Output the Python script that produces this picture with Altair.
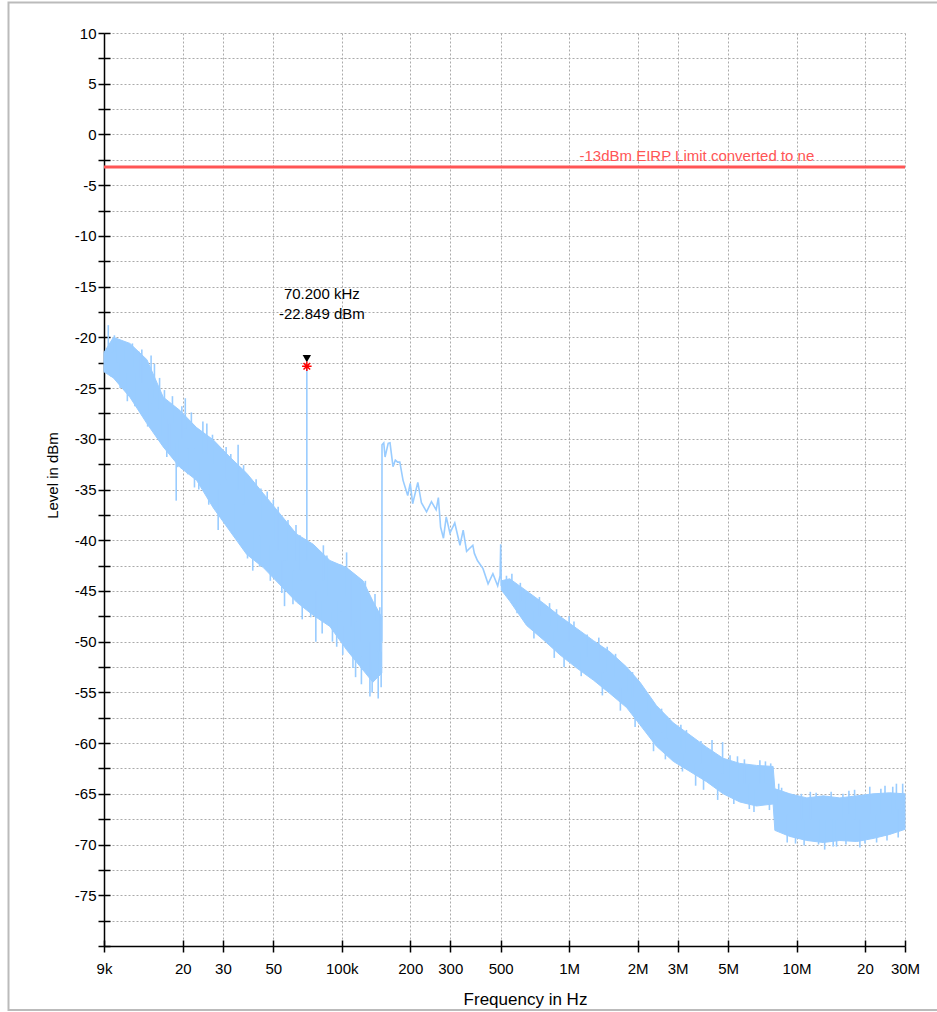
import altair as alt
import pandas as pd

# ---------------- data ----------------
# noisy band 9 kHz .. 150 kHz (upper / lower envelope, dBm)
band1_freq = [9000, 9900, 11700, 13900, 16400, 19400, 23000, 27200, 32200, 38200,
              45200, 53500, 63300, 74900, 88700, 105000, 124000, 137000, 150000]
band1_hi = [-21.5, -20.0, -20.6, -22.2, -25.9, -27.2, -28.9, -30.1, -31.8, -33.4,
            -35.4, -37.4, -39.4, -40.4, -42.0, -42.7, -44.0, -46.0, -47.6]
band1_lo = [-23.4, -24.0, -25.9, -28.5, -30.8, -32.8, -34.1, -36.8, -39.1, -41.4,
            -42.7, -44.4, -46.1, -47.4, -48.5, -50.8, -52.8, -54.0, -53.1]

# noisy band 500 kHz .. 30 MHz
band3_freq = [503000, 548000, 650000, 769000, 911000, 1080000, 1280000, 1510000, 1790000,
              2050000, 2420000, 2870000, 3400000, 4020000, 4760000, 5630000, 6670000,
              7890000, 8030000, 9350000, 11100000, 13100000, 15500000, 18400000,
              21700000, 25700000, 30000000]
band3_hi = [-44.0, -43.8, -45.0, -46.2, -47.5, -48.7, -49.9, -51.0, -52.5,
            -54.0, -56.3, -58.0, -59.2, -60.4, -61.5, -62.0, -62.2,
            -62.3, -64.5, -65.0, -65.4, -65.2, -65.4, -65.2,
            -65.0, -64.9, -65.0]
band3_lo = [-44.9, -46.0, -48.4, -49.8, -51.3, -52.6, -53.8, -55.1, -56.5,
            -58.2, -60.3, -61.8, -62.8, -63.8, -65.0, -65.8, -66.2,
            -66.0, -68.6, -69.2, -69.6, -69.8, -69.6, -69.7,
            -69.4, -69.0, -68.5]

# single trace 150 kHz .. 500 kHz
line_freq = [150000, 150300, 153000, 155000, 160000, 163000, 168000, 172000, 176000, 180000,
             186000, 195000, 200000, 205000, 216000, 224000, 236000, 248000, 260000, 266000,
             272000, 280000, 288000, 299000, 314000, 331000, 342000, 354000, 377000, 383000,
             395000, 418000, 440000, 462000, 485000, 497000, 500000, 503000]
line_db = [-50.0, -30.6, -30.4, -31.8, -30.45, -30.4, -32.75, -32.1, -32.3, -32.3,
           -34.1, -35.6, -34.4, -36.4, -34.3, -36.3, -37.2, -36.2, -37.0, -35.8,
           -38.7, -39.8, -37.7, -39.3, -38.3, -40.5, -39.0, -41.1, -40.5, -41.3,
           -42.0, -42.8, -44.3, -43.3, -44.5, -43.5, -40.4, -44.5]

# noise spikes (frequency, start level, tip level)
spike_freq = [9400, 10300, 12000, 13200, 14500, 15800, 17000, 18700, 20500, 22500,
              25500, 28600, 31000, 35000, 40600, 44100, 50000, 56000, 62900, 67000,
              70200, 76900, 83000, 95000, 105000, 115000, 127000, 133000, 140000, 144600,
              560000, 640000, 820000, 1000000, 1200000, 1470000, 1790000, 2190000, 2700000,
              3280000, 3600000, 4250000, 4730000, 5500000, 6200000, 7300000, 8350000,
              9900000, 11500000, 13300000, 15000000, 17000000, 19000000, 23500000,
              26500000, 29300000,
              9700, 10000, 10600, 11000, 11400, 12300, 12800, 14000, 15000, 16000,
              16600, 17500, 18000, 19000, 19800, 21000, 21800, 23500, 24500, 26000,
              27000, 29500, 32500, 34000, 37000, 38500, 42000, 43500, 47000, 48500,
              52500, 54500, 58000, 61000, 65500, 73000, 79000, 82000, 86000, 91000,
              99000, 101000, 110000, 112000, 120000, 122000, 130000, 136000, 147000, 149000,
              530000, 590000, 610000, 700000, 740000, 860000, 880000, 950000, 1050000, 1130000,
              1350000, 1400000, 1600000, 1680000, 1900000, 1950000, 2300000, 2350000, 2550000,
              2650000, 3100000, 3150000, 3800000, 3900000, 4500000, 5100000, 5300000, 5900000,
              6500000, 6900000, 7600000, 7700000, 8600000, 9100000, 10500000, 10800000,
              12200000, 12500000, 14200000, 14500000, 16000000, 16500000, 18000000,
              20000000, 21000000, 22500000, 24500000, 25000000, 27500000, 28000000]
spike_base = [-22.0, -22.5, -23.0, -24.5, -26.5, -27.0, -28.0, -30.5, -29.0, -31.0,
              -31.5, -35.0, -34.0, -35.0, -39.0, -38.0, -40.0, -42.0, -42.0, -44.0,
              -42.0, -45.0, -44.0, -46.0, -45.5, -48.0, -47.0, -50.0, -48.0, -51.0,
              -45.0, -47.0, -48.5, -50.0, -51.5, -53.0, -55.0, -57.0, -59.5,
              -61.0, -62.0, -62.0, -63.0, -64.0, -64.0, -64.0, -66.5,
              -67.5, -67.5, -67.5, -67.5, -67.0, -67.5, -67.0,
              -67.0, -66.5,
              -21.5, -21.5, -22.5, -22.5, -23.5, -23.5, -24.0, -25.0, -26.0, -27.0,
              -28.0, -28.5, -28.5, -30.0, -30.0, -31.0, -30.0, -32.0, -31.5, -33.5,
              -32.5, -34.5, -35.0, -36.5, -36.5, -38.0, -38.5, -39.5, -39.5, -40.5,
              -41.0, -42.0, -42.0, -43.0, -43.0, -44.5, -44.5, -46.0, -45.5, -47.0,
              -47.0, -48.5, -48.5, -50.0, -50.0, -51.5, -50.5, -52.0, -51.0, -51.0,
              -45.0, -45.5, -46.0, -47.0, -47.5, -49.0, -49.0, -50.0, -50.5, -51.0,
              -52.0, -53.0, -53.5, -54.5, -55.5, -56.0, -58.0, -58.5, -59.0,
              -59.5, -60.5, -61.0, -62.0, -62.5, -63.5, -63.5, -64.0, -64.0,
              -64.5, -64.0, -64.5, -64.0, -67.0, -67.0, -67.5, -67.5,
              -67.5, -67.5, -67.5, -67.5, -67.5, -67.5, -67.5,
              -67.0, -67.0, -67.0, -67.0, -67.0, -66.5, -66.5]
spike_tip = [-18.8, -20.3, -20.6, -21.2, -21.8, -24.0, -31.8, -36.1, -26.0, -34.8,
             -28.5, -39.0, -30.8, -30.6, -43.0, -34.9, -36.0, -46.5, -38.5, -47.8,
             -22.849, -50.0, -40.5, -50.5, -41.2, -53.5, -44.0, -55.4, -45.3, -55.6,
             -43.3, -45.0, -46.2, -47.5, -49.3, -50.5, -52.5, -55.3, -57.4,
             -58.7, -64.2, -59.7, -59.9, -61.3, -66.5, -61.8, -64.0,
             -69.9, -64.8, -70.5, -70.2, -64.7, -70.3, -64.5,
             -64.3, -64.0,
             -23.9, -19.8, -25.0, -20.8, -26.3, -26.8, -21.4, -28.8, -22.6, -29.8,
             -25.2, -31.3, -25.8, -32.8, -26.8, -33.5, -27.4, -35.0, -28.3, -36.5,
             -29.6, -37.8, -31.5, -39.6, -32.6, -41.8, -34.0, -42.6, -35.2, -44.0,
             -36.7, -45.2, -38.0, -46.3, -39.5, -47.6, -41.0, -49.2, -41.5, -50.0,
             -42.4, -51.3, -43.3, -52.6, -44.3, -54.2, -45.4, -55.0, -46.6, -54.5,
             -43.5, -47.2, -44.2, -49.7, -45.6, -51.6, -46.8, -52.5, -48.0, -53.4,
             -49.6, -55.3, -51.2, -56.8, -53.0, -58.4, -55.7, -60.8, -56.6,
             -61.6, -58.2, -62.8, -59.8, -64.6, -65.6, -61.2, -66.0, -61.6,
             -66.8, -61.7, -66.6, -62.0, -64.4, -69.8, -65.0, -70.1,
             -64.9, -70.0, -64.8, -70.2, -65.0, -70.0, -64.6,
             -69.9, -64.3, -69.8, -64.2, -69.6, -64.0, -69.3]

limit_db = -3.2
limit_text = "-13dBm EIRP Limit converted to ne"
limit_text_freq = 1110000

marker_freq = 70200
marker_db = -22.849
marker_tri_db = -22.1
marker_lines = ["70.200 kHz", "-22.849 dBm"]

x_ticks = [9000, 20000, 30000, 50000, 100000, 200000, 300000, 500000,
           1000000, 2000000, 3000000, 5000000, 10000000, 20000000, 30000000]
x_labels = ["9k", "20", "30", "50", "100k", "200", "300", "500",
            "1M", "2M", "3M", "5M", "10M", "20", "30M"]
y_ticks = [-80 + 2.5 * i for i in range(37)]

TRACE = "#99CCFF"
RED = "#FF5555"
FONT = "Liberation Sans"

# ---------------- tables ----------------
band = pd.concat([
    pd.DataFrame({"f": band1_freq, "hi": band1_hi, "lo": band1_lo, "seg": "a"}),
    pd.DataFrame({"f": band3_freq, "hi": band3_hi, "lo": band3_lo, "seg": "b"}),
])
line = pd.DataFrame({"f": line_freq, "db": line_db})
spikes = pd.DataFrame({"f": spike_freq, "b": spike_base, "t": spike_tip})
limit = pd.DataFrame({"db": [limit_db], "f": [limit_text_freq], "txt": [limit_text]})
marker = pd.DataFrame({"f": [marker_freq], "db": [marker_db], "tri": [marker_tri_db],
                       "l1": [marker_lines[0]], "l2": [marker_lines[1]]})

label_expr = ""
for v, l in zip(x_ticks, x_labels):
    label_expr += f"datum.value == {v} ? '{l}' : "
label_expr += "''"

xscale = alt.Scale(type="log", domain=[9000, 30000000], nice=False)
yscale = alt.Scale(domain=[-80, 10], nice=False, zero=False)

x_main = alt.Axis(values=x_ticks, labelExpr=label_expr, title="Frequency in Hz",
                  orient="bottom", grid=True, gridColor="#aaaaaa", gridDash=[2, 2],
                  gridWidth=1, domainColor="black", domainWidth=1.5, tickColor="black",
                  tickWidth=1.5, tickSize=6, labelPadding=9, labelFontSize=15,
                  labelOverlap=False, labelBound=False, labelFlush=False,
                  titleFontSize=17, titleFontWeight="normal", titleX=421, titleY=58,
                  titleBaseline="alphabetic", titleAnchor="middle", titleAlign="center")
y_main = alt.Axis(values=y_ticks,
                  labelExpr="(datum.value % 5 == 0 && datum.value > -80) ? ('' + datum.value) : ''",
                  title="Level in dBm", orient="left", grid=True, gridColor="#aaaaaa",
                  gridDash=[2, 2], gridWidth=1, domainColor="black", domainWidth=1.5,
                  tickColor="black", tickWidth=1.5, tickSize=6, labelPadding=2,
                  labelFontSize=15, labelOverlap=False, labelBound=False, labelFlush=False,
                  titleFontSize=15, titleFontWeight="normal", titleX=-47, titleY=442,
                  titleAngle=270, titleBaseline="alphabetic", titleAlign="center")
x_inner = alt.Axis(values=x_ticks, orient="bottom", offset=-6, labels=False, domain=False,
                   grid=False, title=None, tickColor="black", tickWidth=1.5, tickSize=6)
y_inner = alt.Axis(values=y_ticks, orient="left", offset=-6, labels=False, domain=False,
                   grid=False, title=None, tickColor="black", tickWidth=1.5, tickSize=6)

base_band = alt.Chart(band)
band_layer = base_band.mark_area(color=TRACE, opacity=1, stroke=TRACE, strokeWidth=1).encode(
    x=alt.X("f:Q", scale=xscale, axis=x_main),
    y=alt.Y("hi:Q", scale=yscale, axis=y_main),
    y2="lo:Q",
    detail="seg:N",
)
carrier = base_band.mark_point(opacity=0).encode(
    x=alt.X("f:Q", scale=xscale, axis=x_inner),
    y=alt.Y("hi:Q", scale=yscale, axis=y_inner),
)
spike_layer = alt.Chart(spikes).mark_rule(color=TRACE, strokeWidth=1.6).encode(
    x=alt.X("f:Q", scale=xscale, axis=None),
    y=alt.Y("b:Q", scale=yscale, axis=None),
    y2="t:Q",
)
line_layer = alt.Chart(line).mark_line(color=TRACE, strokeWidth=1.6).encode(
    x=alt.X("f:Q", scale=xscale, axis=None),
    y=alt.Y("db:Q", scale=yscale, axis=None),
    order="f:Q",
)
limit_layer = alt.Chart(limit).mark_rule(color=RED, strokeWidth=3).encode(
    y=alt.Y("db:Q", scale=yscale, axis=None),
)
limit_text_layer = alt.Chart(limit).mark_text(
    color=RED, fontSize=15, font=FONT, align="left", baseline="bottom", dy=-3
).encode(
    x=alt.X("f:Q", scale=xscale, axis=None),
    y=alt.Y("db:Q", scale=yscale, axis=None),
    text="txt:N",
)
tri_layer = alt.Chart(marker).mark_point(shape="triangle-down", filled=True, color="black",
                                         size=70, opacity=1).encode(
    x=alt.X("f:Q", scale=xscale, axis=None),
    y=alt.Y("tri:Q", scale=yscale, axis=None),
)
star_layer = alt.Chart(marker).mark_point(
    shape="M-1,0L1,0M0,-1L0,1M-0.7,-0.7L0.7,0.7M-0.7,0.7L0.7,-0.7",
    filled=False, color="red", strokeWidth=1.5, size=90, opacity=1,
).encode(
    x=alt.X("f:Q", scale=xscale, axis=None),
    y=alt.Y("db:Q", scale=yscale, axis=None),
)
txt1 = alt.Chart(marker).mark_text(fontSize=15, font=FONT, color="black", dx=15, dy=-72).encode(
    x=alt.X("f:Q", scale=xscale, axis=None),
    y=alt.Y("db:Q", scale=yscale, axis=None),
    text="l1:N",
)
txt2 = alt.Chart(marker).mark_text(fontSize=15, font=FONT, color="black", dx=15, dy=-52).encode(
    x=alt.X("f:Q", scale=xscale, axis=None),
    y=alt.Y("db:Q", scale=yscale, axis=None),
    text="l2:N",
)
frame = alt.Chart(limit).mark_rect(filled=False, stroke="#bbbbbb", strokeWidth=2).encode(
    x=alt.value(-95.5), x2=alt.value(1000), y=alt.value(-30.5), y2=alt.value(977)
)

chart = alt.layer(
    band_layer, carrier, spike_layer, line_layer, limit_layer, limit_text_layer,
    tri_layer, star_layer, txt1, txt2, frame
).resolve_axis(x="independent", y="independent").properties(
    width=801, height=913,
    padding={"left": 104, "top": 33, "right": 32, "bottom": 66},
    autosize=alt.AutoSizeParams(type="none"),
    background="white",
).configure_view(stroke=None).configure_axis(
    labelFont=FONT, titleFont=FONT, labelColor="black", titleColor="black"
)

chart.save("out.html", embed_options={"renderer": "svg", "actions": False})
